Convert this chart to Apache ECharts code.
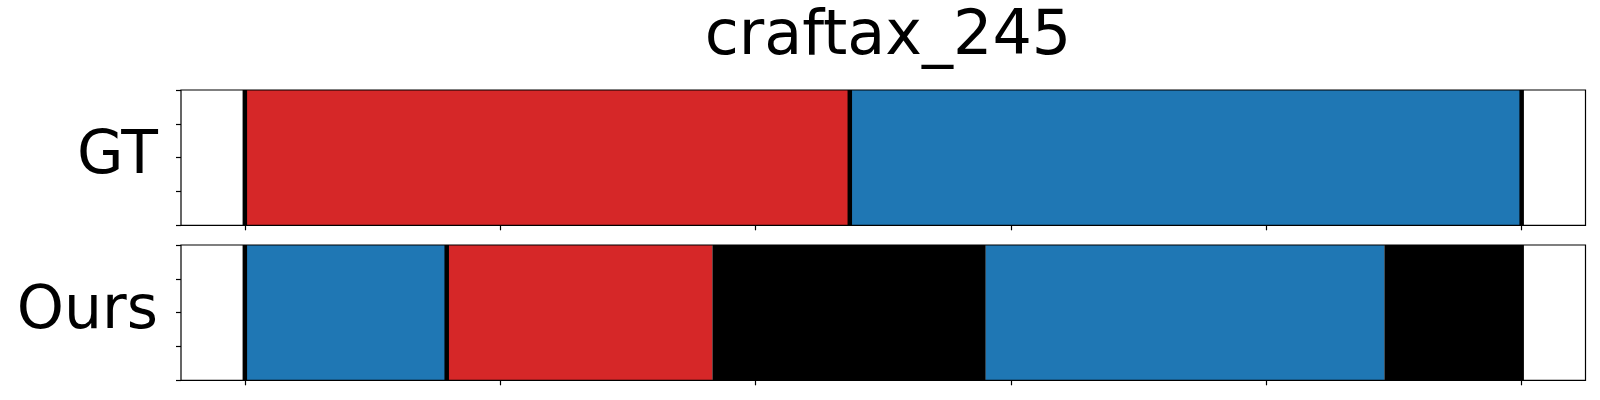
<!DOCTYPE html>
<html>
<head>
<meta charset="utf-8">
<script src="https://cdn.jsdelivr.net/npm/echarts@6/dist/echarts.min.js"></script>
<style>html,body{margin:0;padding:0;background:#fff}#c{width:1600px;height:400px}</style>
</head>
<body>
<div id="c"></div>
<script>
const title = 'craftax_245';
const rowNames = ['GT', 'Ours'];
const xTicks = [0, 20, 40, 60, 80, 100];
const classColors = { red: '#d62728', blue: '#1f77b4', black: '#000000' };
const gtBounds = [0, 47.38, 100];
const gtClasses = ['red', 'blue'];
const gtMarks = [0, 47.38, 100];
const oursBounds = [0, 15.81, 36.62, 58.03, 89.25, 100];
const oursClasses = ['blue', 'red', 'black', 'blue', 'black'];
const oursMarks = [0, 15.81, 100];

function segs(bounds, classes) {
  return classes.map((c, i) => ({ value: [bounds[i], bounds[i + 1]], itemStyle: { color: classColors[c] } }));
}
function rectItem(params, api) {
  const p0 = api.coord([api.value(0), 1]);
  const p1 = api.coord([api.value(1), 0]);
  return { type: 'rect', shape: { x: p0[0], y: p0[1], width: p1[0] - p0[0], height: p1[1] - p0[1] }, style: { fill: api.visual('color') } };
}
function lineItem(params, api) {
  const p0 = api.coord([api.value(0), 1]);
  const p1 = api.coord([api.value(0), 0]);
  return { type: 'line', shape: { x1: p0[0], y1: p0[1], x2: p1[0], y2: p1[1] }, style: { stroke: '#000', lineWidth: 4.5 } };
}
const font = 'DejaVu Sans';
const grids = [
  { left: 181, top: 90, width: 1404.5, height: 135.3 },
  { left: 181, top: 245, width: 1404.5, height: 135.3 }
];
function xAx(i) {
  return {
    gridIndex: i, type: 'value', min: -5, max: 105, position: 'bottom',
    axisLine: { show: false, onZero: false },
    splitLine: { show: false },
    axisLabel: { show: false },
    axisTick: { show: true, length: 5, customValues: xTicks, lineStyle: { color: '#000', width: 1.2 } }
  };
}
function yAx(i) {
  return {
    gridIndex: i, type: 'value', min: 0, max: 1, interval: 0.25, position: 'left',
    name: rowNames[i], nameLocation: 'middle', nameRotate: 0, nameGap: 23,
    nameTextStyle: { fontSize: 60, color: '#000', fontFamily: font, align: 'right', verticalAlign: 'middle', padding: [0, 0, 12, 0] },
    axisLine: { show: false, onZero: false },
    splitLine: { show: false },
    axisLabel: { show: false },
    axisTick: { show: true, length: 5, lineStyle: { color: '#000', width: 1.2 } }
  };
}
const chart = echarts.init(document.getElementById('c'), null, { renderer: 'canvas' });
chart.setOption({
  animation: false,
  backgroundColor: '#fff',
  title: { text: title, left: 883, top: 2, textAlign: 'center', textStyle: { fontSize: 62, fontWeight: 'normal', color: '#000', fontFamily: font } },
  grid: grids.map(g => Object.assign({ show: true, borderColor: '#000', borderWidth: 1.2, backgroundColor: 'transparent', z: 10 }, g)),
  xAxis: [xAx(0), xAx(1)],
  yAxis: [yAx(0), yAx(1)],
  series: [
    { type: 'custom', xAxisIndex: 0, yAxisIndex: 0, renderItem: rectItem, data: segs(gtBounds, gtClasses), encode: { x: [0, 1] }, clip: true },
    { type: 'custom', xAxisIndex: 0, yAxisIndex: 0, renderItem: lineItem, data: gtMarks.map(v => [v]), encode: { x: 0 }, z: 5 },
    { type: 'custom', xAxisIndex: 1, yAxisIndex: 1, renderItem: rectItem, data: segs(oursBounds, oursClasses), encode: { x: [0, 1] }, clip: true },
    { type: 'custom', xAxisIndex: 1, yAxisIndex: 1, renderItem: lineItem, data: oursMarks.map(v => [v]), encode: { x: 0 }, z: 5 }
  ]
});
</script>
</body>
</html>
